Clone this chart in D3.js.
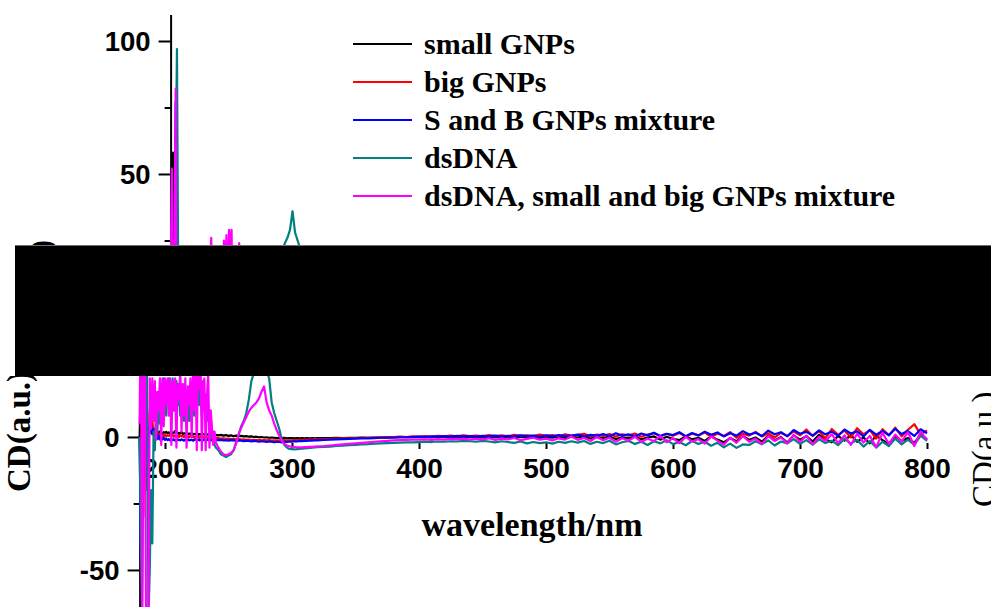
<!DOCTYPE html>
<html><head><meta charset="utf-8">
<script src="https://cdn.jsdelivr.net/npm/d3@7"></script>
<style>body{margin:0;background:#fff}svg{display:block}</style>
</head><body>
<svg id="c" width="991" height="607"></svg>
<script>
// ---------------- data ----------------
const wavelength = [
 180,181,182,183,184,185,186,187,188,189,190,191,192,193,194,195,196,197,198,199,
 200,201,202,203,204,205,206,207,208,209,210,211,212,213,214,215,216,217,218,219,
 220,221,222,223,224,225,226,227,228,229,230,231,232,233,234,235,236,237,238,239,240,
 242,244,246,248,250,252,254,256,258,260,262,264,266,268,270,272,274,276,278,280,
 282,284,286,288,290,292,294,296,298,300,302,304,306,308,310,312,314,316,318,320,
 325,330,335,340,345,350,355,360,365,370,375,380,385,390,395,400,405,410,415,420,
 425,430,435,440,445,450,455,460,465,470,475,480,485,490,495,500,505,510,515,520,
 525,530,535,540,545,550,555,560,565,570,575,580,585,590,595,600,605,610,615,620,
 625,630,635,640,645,650,655,660,665,670,675,680,685,690,695,700,705,710,715,720,
 725,730,735,740,745,750,755,760,765,770,775,780,785,790,795,800
];
const smallGNPs = [
 0,20,58,-10,5,-8,4,2,3,1.5, 2.2,1.6,2.0,1.4,1.9,1.5,2.1,1.7,1.3,1.8,
 1.6,1.9,1.4,1.7,1.5,1.9,1.3,1.6,2.3,1.4, 1.7,1.2,1.5,1.8,1.1,1.4,1.2,1.6,1.0,1.3,
 1.1,1.4,0.9,1.2,1.0,1.3,0.8,1.1,1.0,0.7, 1.1,0.9,1.2,0.8,1.0,0.7,0.9,0.6,0.9,0.7, 0.8,
 0.6,0.8,0.5,0.7,0.4,0.6,0.3,0.5,0.3,0.4, 0.2,0.3,0.1,0.2,0.0,0.1,-0.1,0.0,-0.2,-0.1,
 -0.3,-0.2,-0.3,-0.4,-0.3,-0.4,-0.3,-0.5,-0.4,-0.4, -0.5,-0.4,-0.5,-0.4,-0.5,-0.4,-0.5,-0.4,-0.5,-0.4,
 -0.4,-0.4,-0.3,-0.4,-0.3,-0.3,-0.2,-0.3,-0.2,-0.2, -0.1,-0.2,-0.1,-0.1,0.0,-0.1,0.0,-0.2,0.1,-0.1,
 0.0,-0.2,0.1,-0.1,0.0,-0.3,0.1,-0.2,0.2,-0.1, -0.3,0.1,-0.2,0.2,-0.4,0.0,-0.3,0.2,-0.5,0.1,
 -0.2,0.3,-0.6,0.0,-0.4,0.2,-0.8,-0.1,-0.5,0.3, -0.9,-0.2,0.2,-1.0,0.1,-0.7,-1.2,0.3,-0.9,-0.3,
 -1.5,0.2,-1.0,-2.0,-0.4,-1.6,0.4,-1.1,-0.2,-1.8, 0.5,-1.3,0.0,-2.1,0.6,-1.0,0.3,-1.7,0.8,-0.9,
 -2.0,0.4,-1.4,0.7,-1.8,-0.2,-2.4,0.5,-1.2,-2.6, 0.3,-1.5,-0.4,-2.2,0.9,-0.8
];
const bigGNPs = [
 0,-20,10,-30,15,-10,5,3,10,2, 6,1.5,3,0.8,1.5,0.5,1.2,0.4,0.9,0.3,
 0.8,0.2,0.7,0.4,0.9,0.2,0.6,0.1,0.7,0.3, 0.5,0.0,0.6,0.2,0.4,-0.1,0.5,0.1,0.3,-0.2,
 0.4,0.0,0.2,-0.3,0.3,-0.1,0.1,-0.4,0.2,-0.2, 0.0,-0.4,0.1,-0.3,-0.1,-0.5,0.0,-0.4,-0.2,-0.5, -0.3,
 -0.4,-0.6,-0.5,-0.7,-0.6,-0.8,-0.7,-0.9,-0.8,-1.0, -0.9,-1.1,-1.0,-1.2,-1.1,-1.2,-1.1,-1.3,-1.2,-1.3,
 -1.2,-1.4,-1.3,-1.4,-1.3,-1.4,-1.2,-1.4,-1.3,-1.3, -1.2,-1.3,-1.1,-1.2,-1.0,-1.1,-0.9,-1.0,-0.8,-0.9,
 -0.8,-0.7,-0.6,-0.5,-0.5,-0.4,-0.3,-0.3,-0.2,-0.1, -0.1,0.0,0.1,0.0,0.2,0.1,0.3,0.1,0.4,0.2,
 0.5,0.2,0.6,0.3,0.5,0.2,0.7,0.3,0.6,0.2, 0.8,0.4,0.6,0.3,0.9,0.4,0.7,0.2,1.0,0.5,
 0.8,1.2,0.3,0.9,0.4,1.1,0.2,1.0,0.5,1.3, 0.1,0.9,1.4,0.3,1.1,0.5,1.5,0.2,1.2,0.6,
 1.7,0.0,1.3,0.4,1.8,-0.3,1.2,0.5,1.9,0.2, 1.4,-0.2,1.6,0.3,2.1,0.6,2.8,0.4,2.2,-0.5,
 3.0,0.8,2.4,-0.2,3.3,1.0,2.6,-0.6,2.9,0.7, 3.5,0.2,2.7,4.8,1.0,2.5
];
const mixtureGNPs = [
 0,-47,-30,20,77,10,-20,4,2,4.5, 1,3,-0.5,1.5,-0.8,0.5,-1.0,0.2,-0.9,-0.3,
 -1.1,-0.6,-1.2,-0.8,-1.3,-0.7,-1.1,-0.9,-1.4,-0.8, -1.2,-1.0,-1.3,-0.9,-1.1,-1.4,-1.0,-1.2,-0.9,-1.3,
 -1.1,-1.0,-1.4,-1.1,-0.9,-1.2,-1.0,-1.3,-1.1,-0.9, -1.2,-1.0,-1.3,-1.1,-1.0,-1.2,-1.1,-1.3,-1.0,-1.2, -1.1,
 -1.2,-1.1,-1.3,-1.2,-1.4,-1.2,-1.3,-1.5,-1.3,-1.4, -1.6,-1.4,-1.5,-1.7,-1.5,-1.6,-1.8,-1.6,-1.7,-1.9,
 -1.7,-1.8,-2.0,-1.8,-1.9,-2.0,-1.8,-1.9,-1.7,-1.8, -1.6,-1.7,-1.5,-1.6,-1.4,-1.5,-1.3,-1.4,-1.2,-1.3,
 -1.1,-1.0,-0.9,-0.8,-0.7,-0.6,-0.5,-0.5,-0.4,-0.3, -0.3,-0.2,-0.1,-0.1,0.0,0.1,0.0,0.2,0.1,0.3,
 0.1,0.4,0.2,0.3,0.1,0.4,0.2,0.5,0.1,0.4, 0.2,0.6,0.3,0.5,0.1,0.6,0.2,0.7,0.3,0.5,
 0.9,0.2,0.8,0.4,1.1,0.3,1.4,0.5,1.0,0.2, 1.3,0.6,1.6,0.4,1.2,0.7,1.8,0.3,1.5,0.6,
 2.0,0.8,1.7,0.2,1.4,0.5,2.2,0.9,1.6,0.4, 2.4,1.0,1.8,0.3,2.6,1.2,1.9,0.5,2.5,1.0,
 2.0,0.4,2.8,1.3,2.1,0.2,2.7,0.9,2.3,0.6, 3.1,1.1,2.2,0.4,2.9,1.4
];
const dsDNA = [
 0,-40,-68,5,50,97,10,-68,-50,-20, -40,2,-5,10,2,15,5,20,10,22,
 14,8,19,22,12,17,22,10,16,21, 12,18,8,14,19,6,13,4,15,6,
 14,6,18,8,20,10,22,12,19,8, 21,10,16,6,12,3,8,0,2,-3, -4,
 -5,-6.5,-7,-7.5,-7,-6.5,-5,-2,1,4, 6,9,14,21,24,26,29,36,28,25,
 22,13,9,6,3,-1,-3,-4,-4.5,-4.6, -4.7,-4.6,-4.5,-4.4,-4.3,-4.2,-4.1,-4,-3.9,-3.8,
 -3.7,-3.6,-3.4,-3.3,-3.1,-3.0,-2.8,-2.7,-2.5,-2.4, -2.3,-2.2,-2.1,-2.0,-2.0,-1.9,-1.8,-1.9,-1.7,-1.8,
 -1.6,-1.7,-1.5,-1.6,-1.8,-1.5,-1.7,-2.0,-1.6,-1.9, -2.2,-1.7,-2.4,-1.9,-2.3,-2.0,-2.5,-1.8,-2.2,-1.6,
 -2.1,-1.5,-2.6,-1.8,-2.3,-1.4,-2.8,-2.0,-1.5,-2.6, -1.8,-3.0,-1.6,-2.4,-1.2,-2.7,-1.9,-3.1,-1.5,-2.6,
 -1.8,-3.3,-2.2,-3.9,-2.5,-4.1,-2.8,-3.0,-1.6,-2.7, -1.3,-3.2,-1.7,-2.4,-0.8,-2.6,-1.2,-2.9,-0.9,-2.3,
 -1.4,-3.1,-0.7,-2.5,-1.1,-3.6,-1.5,-4.0,-1.8,-3.4, -0.6,-2.8,-1.0,-3.0,0.5,-1.5
];
const dsDNAMixture = [
 5,52,-70,20,82,-70,-70,-66,22,3, 22,6,21,-1,17,10,22,-3,22,4,
 22,12,22,8,22,-3,21,10,22,-4, 20,14,26,2,20,8,22,-4,19,12,
 22,0,25,10,27,-5,29,18,29,-5, 20,22,-5,15,24,-4,10,3,-3,2, -2,
 -4,-5.5,-6.5,-6.8,-6.5,-6,-5,-2.5,1,3.5, 5.5,7.5,9.5,11,12,13,14.5,17,19,13,
 10,8,5,2.5,0.5,-1.5,-2.6,-3.2,-3.5,-3.7, -3.8,-3.9,-3.9,-3.9,-3.8,-3.8,-3.7,-3.7,-3.6,-3.5,
 -3.4,-3.2,-3.0,-2.8,-2.6,-2.4,-2.2,-2.0,-1.8,-1.6, -1.5,-1.3,-1.2,-1.1,-1.0,-1.0,-0.9,-1.1,-0.8,-1.0,
 -0.7,-0.9,-0.6,-1.0,-0.7,-0.9,-0.5,-1.1,-0.6,-0.9, -0.4,-1.2,-0.7,-0.3,-1.0,-0.6,-1.3,-0.5,-1.0,0.2,
 -1.1,-0.4,-1.5,0.0,-1.2,-0.3,-1.8,-0.5,-1.4,0.1, -1.9,-0.6,-1.6,0.3,-2.0,-0.4,-2.3,0.0,-1.7,-0.8,
 -2.5,0.2,-1.4,-2.9,-0.3,-2.2,0.4,-1.8,-0.6,-2.7, 0.3,-1.5,-0.2,-2.4,0.8,-1.9,0.5,-2.8,0.1,-1.6,
 1.0,-2.3,0.6,-3.0,1.2,-2.1,0.4,-3.8,1.5,-2.6, 0.9,-1.8,1.8,-3.4,2.0,-1.2
];
const seriesNames = ["small GNPs","big GNPs","S and B GNPs mixture","dsDNA","dsDNA, small and big GNPs mixture"];
const seriesValues = [smallGNPs, bigGNPs, mixtureGNPs, dsDNA, dsDNAMixture];
const seriesColors = ["#000000","#ff0000","#0000ff","#008080","#ff00ff"];
const xTicks = [200,300,400,500,600,700,800];
const yMajorTicks = [-50,0,50,100];
const yMinorTicks = [-25,25,75];
const xTitle = "wavelength/nm";
const yTitle = "CD(a.u.)";

// ---------------- drawing ----------------
const W = 991, H = 607;
const svg = d3.select("#c");
const x = d3.scaleLinear().domain([180, 800]).range([139.6, 927]);
const y = d3.scaleLinear().domain([-64, 110]).range([607.2, 144.4]);

// the picture is a composite: an upper strip (shifted) and a lower strip, separated by a black band
const band = {top: 245, bottom: 376};
const upperShift = {dx: 31, dy: -130};

const defs = svg.append("defs");
defs.append("clipPath").attr("id", "clipTop").append("rect")
  .attr("x", 0).attr("y", 0).attr("width", W).attr("height", band.top);
defs.append("clipPath").attr("id", "clipBottom").append("rect")
  .attr("x", 0).attr("y", band.bottom).attr("width", W).attr("height", H - band.bottom);

const sansBold = "'Liberation Sans', Arial, sans-serif";
const serif = "'Liberation Serif', 'Times New Roman', serif";

function drawPanel(g, upper) {
  const dy = upper ? upperShift.dy : 0;
  const visible = v => upper ? y(v) + dy < band.top : y(v) > band.bottom;

  // y axis
  const yAxis = g.append("g").attr("transform", `translate(${x(180)},0)`)
    .call(d3.axisLeft(y).tickValues(yMajorTicks.filter(visible)).tickSize(12).tickSizeOuter(0)
      .tickPadding(8).tickFormat(d => String(d)));
  yAxis.select(".domain").attr("stroke", "#000").attr("stroke-width", 2);
  yAxis.selectAll(".tick line").attr("stroke", "#000").attr("stroke-width", 2);
  yAxis.selectAll(".tick text").attr("font-family", sansBold).attr("font-weight", "bold")
    .attr("font-size", 27.5).attr("fill", "#000").attr("dy", "0.36em");
  const yMinor = g.append("g").attr("transform", `translate(${x(180)},0)`)
    .call(d3.axisLeft(y).tickValues(yMinorTicks.filter(visible)).tickSize(6).tickFormat(""));
  yMinor.select(".domain").remove();
  yMinor.selectAll(".tick line").attr("stroke", "#000").attr("stroke-width", 2);

  if (upper) {
    // only the closing end of the y title peeks out above the band
    g.append("text").attr("transform", "translate(21,370) rotate(-90)")
      .attr("text-anchor", "end")
      .attr("font-family", serif).attr("font-weight", "bold").attr("font-size", 33)
      .text(yTitle);
  } else {
    // x axis (ticks + labels, no baseline)
    const xAxis = g.append("g").attr("transform", "translate(0,443)")
      .call(d3.axisBottom(x).tickValues(xTicks).tickSize(6).tickSizeOuter(0).tickPadding(9)
        .tickFormat(d => String(d)));
    xAxis.select(".domain").remove();
    xAxis.selectAll(".tick line").attr("stroke", "#000").attr("stroke-width", 2);
    xAxis.selectAll(".tick text").attr("font-family", sansBold).attr("font-weight", "bold")
      .attr("font-size", 28).attr("fill", "#000");

    // axis titles
    g.append("text").attr("x", 532).attr("y", 536).attr("text-anchor", "middle")
      .attr("font-family", serif).attr("font-weight", "bold").attr("font-size", 34)
      .text(xTitle);
    g.append("text").attr("transform", "translate(30,492) rotate(-90)")
      .attr("font-family", serif).attr("font-weight", "bold").attr("font-size", 33)
      .text(yTitle);
    // neighbouring panel's title, cut by the right edge
    g.append("text").attr("transform", "translate(995,507) rotate(-90)")
      .attr("font-family", serif).attr("font-size", 33)
      .text(yTitle);
  }

  // spectra
  const line = d3.line().x((d, i) => x(wavelength[i])).y(d => y(d));
  seriesValues.forEach((vals, k) => {
    g.append("path").datum(vals).attr("d", line)
      .attr("fill", "none").attr("stroke", seriesColors[k]).attr("stroke-width", 2.2)
      .attr("stroke-linejoin", "round");
  });
}

// lower strip
drawPanel(svg.append("g").attr("clip-path", "url(#clipBottom)").append("g"), false);
// upper strip
drawPanel(svg.append("g").attr("clip-path", "url(#clipTop)").append("g")
  .attr("transform", `translate(${upperShift.dx},${upperShift.dy})`), true);

// black band
svg.append("rect").attr("x", 15).attr("y", band.top).attr("width", W - 15)
  .attr("height", band.bottom - band.top).attr("fill", "#000");
svg.append("line").attr("x1", 15).attr("x2", W).attr("y1", band.top + 0.5).attr("y2", band.top + 0.5)
  .attr("stroke", "#6e6e6e").attr("stroke-width", 1);

// legend
const legend = svg.append("g");
seriesNames.forEach((name, i) => {
  const ly = 44 + i * 38;
  legend.append("line").attr("x1", 353).attr("x2", 412).attr("y1", ly).attr("y2", ly)
    .attr("stroke", seriesColors[i]).attr("stroke-width", 2);
  legend.append("text").attr("x", 424).attr("y", ly).attr("dy", "0.33em")
    .attr("font-family", serif).attr("font-weight", "bold").attr("font-size", 30)
    .attr("fill", "#000").text(name);
});
</script>
</body></html>
